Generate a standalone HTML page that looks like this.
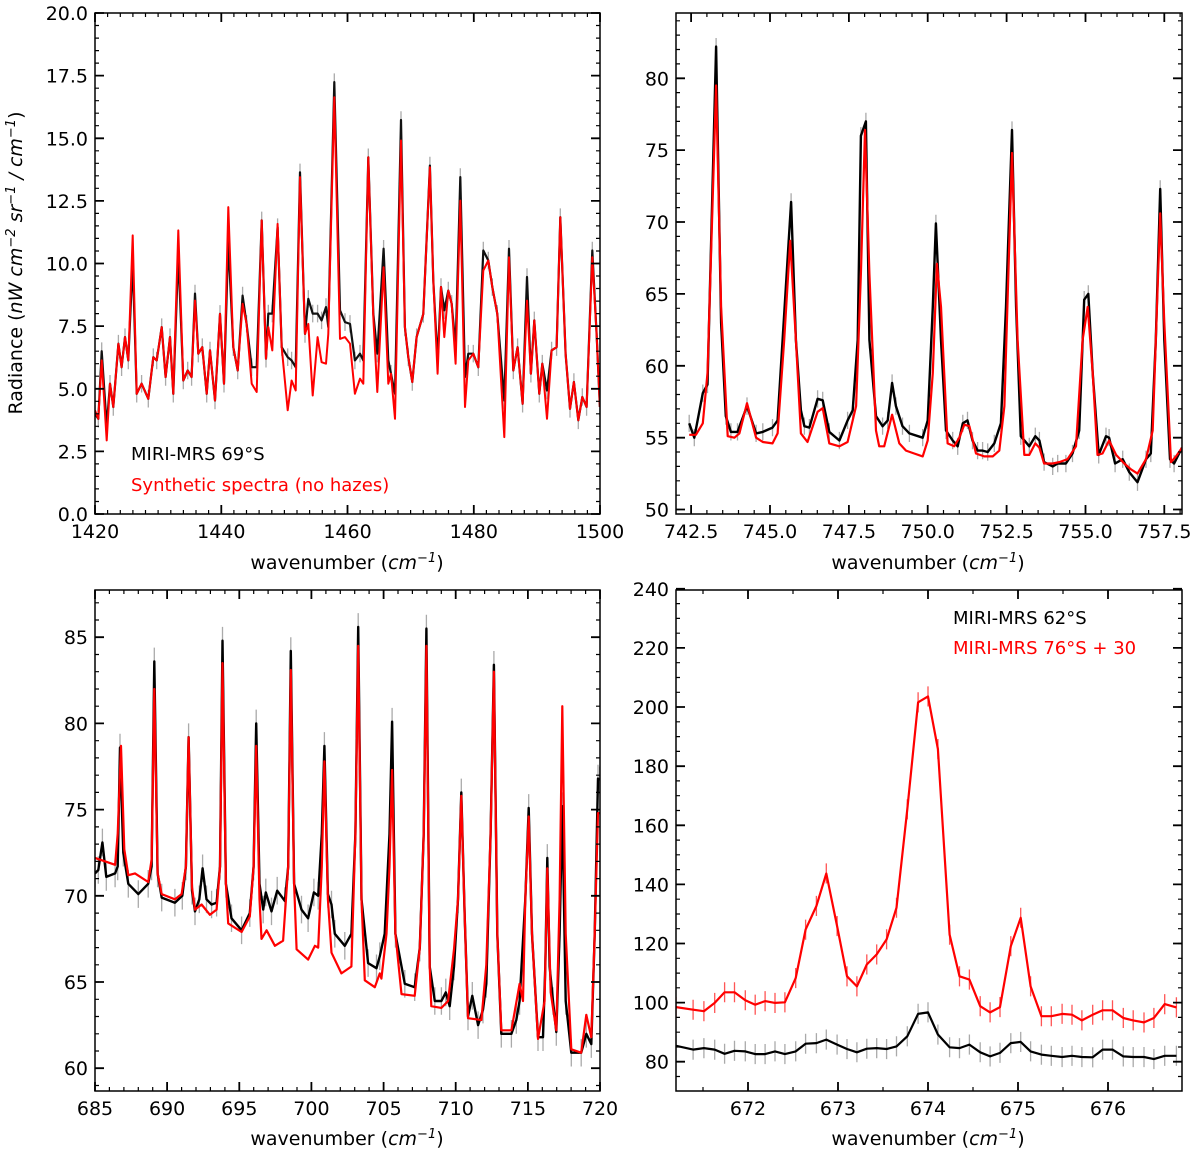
<!DOCTYPE html>
<html><head><meta charset="utf-8">
<style>
html,body{margin:0;padding:0;background:#fff;}
svg{display:block;font-family:"DejaVu Sans","Liberation Sans",sans-serif;}
</style></head>
<body>
<svg id="fig" width="1200" height="1154" viewBox="0 0 1200 1154" xmlns="http://www.w3.org/2000/svg">
<rect width="1200" height="1154" fill="#fff"/>
<g id="layer"></g>
<text transform="translate(22,263) rotate(-90)" text-anchor="middle" font-size="19">Radiance (<tspan font-style="italic">nW cm</tspan><tspan font-style="italic" font-size="13" dy="-7">−2</tspan><tspan font-style="italic" dy="7"> sr</tspan><tspan font-style="italic" font-size="13" dy="-7">−1</tspan><tspan font-style="italic" dy="7"> / cm</tspan><tspan font-style="italic" font-size="13" dy="-7">−1</tspan><tspan dy="7">)</tspan></text>
<text x="347" y="569" text-anchor="middle" font-size="19">wavenumber (<tspan font-style="italic">cm</tspan><tspan font-style="italic" font-size="13" dy="-7">−1</tspan><tspan dy="7">)</tspan></text>
<text x="928" y="569" text-anchor="middle" font-size="19">wavenumber (<tspan font-style="italic">cm</tspan><tspan font-style="italic" font-size="13" dy="-7">−1</tspan><tspan dy="7">)</tspan></text>
<text x="347" y="1145" text-anchor="middle" font-size="19">wavenumber (<tspan font-style="italic">cm</tspan><tspan font-style="italic" font-size="13" dy="-7">−1</tspan><tspan dy="7">)</tspan></text>
<text x="928" y="1145" text-anchor="middle" font-size="19">wavenumber (<tspan font-style="italic">cm</tspan><tspan font-style="italic" font-size="13" dy="-7">−1</tspan><tspan dy="7">)</tspan></text>
<text x="131" y="460" font-size="18" fill="#000">MIRI-MRS 69°S</text>
<text x="131" y="491" font-size="18" fill="#f00">Synthetic spectra (no hazes)</text>
<text x="953" y="624" font-size="18" fill="#000">MIRI-MRS 62°S</text>
<text x="953" y="654" font-size="18" fill="#f00">MIRI-MRS 76°S + 30</text>
</svg>
<script>
// ---- Panel 1 data (1420-1500 cm-1) ----
const p1Wn=[1420.00,1420.53,1421.06,1421.85,1422.38,1422.90,1423.70,1424.22,1424.75,1425.28,1425.97,1426.60,1427.39,1428.45,1429.24,1429.77,1430.56,1431.19,1431.88,1432.41,1433.20,1433.99,1434.68,1435.31,1435.84,1436.37,1437.00,1437.69,1438.22,1439.01,1439.80,1440.43,1441.12,1441.91,1442.60,1443.39,1444.02,1444.82,1445.61,1446.40,1447.09,1447.46,1448.09,1448.93,1449.57,1450.52,1451.15,1451.79,1452.47,1453.26,1453.79,1454.48,1455.27,1455.90,1456.59,1456.96,1457.91,1458.81,1459.60,1460.39,1461.18,1461.98,1462.50,1463.30,1464.09,1464.72,1465.72,1466.46,1466.89,1467.52,1468.47,1469.10,1469.63,1470.27,1470.95,1472.01,1473.06,1473.59,1474.28,1474.81,1475.33,1475.97,1476.50,1477.13,1477.87,1478.61,1479.14,1479.93,1480.72,1481.51,1482.30,1482.94,1483.73,1484.84,1485.58,1486.26,1486.95,1487.74,1488.43,1489.06,1489.59,1490.38,1490.86,1491.60,1492.34,1493.13,1493.71,1494.55,1495.24,1495.87,1496.56,1497.19,1497.88,1498.78,1499.46,1499.99];
const p1Syn=[4.14,3.80,6.13,2.94,5.20,4.27,6.80,5.86,7.06,6.13,11.12,4.80,5.20,4.60,6.26,6.13,7.46,5.47,7.06,4.80,11.32,5.33,5.73,5.47,8.52,6.40,6.66,4.80,6.53,4.53,7.99,5.20,12.25,6.66,5.73,8.39,7.59,5.20,4.87,11.72,6.20,7.46,6.53,11.58,6.66,4.14,5.33,4.93,13.45,7.19,7.59,4.73,7.06,6.06,6.00,7.19,16.64,6.99,7.06,6.80,4.80,5.40,5.20,14.24,7.86,4.87,9.85,5.20,5.60,3.80,14.91,7.46,6.26,5.27,7.06,7.99,13.84,9.32,5.60,9.06,7.06,8.92,8.39,6.00,12.51,4.27,6.13,6.40,5.86,9.72,10.12,9.06,7.99,3.07,10.25,5.73,6.66,4.40,8.52,5.60,7.73,4.80,6.00,3.80,6.53,6.66,11.85,6.40,4.20,5.27,3.74,4.67,4.27,10.25,7.19,4.27];
const p1Obs=[4.00,3.80,6.50,3.50,5.20,4.27,6.80,5.86,7.06,6.13,10.10,4.80,5.20,4.60,6.26,6.13,7.46,5.47,7.06,4.80,10.40,5.33,5.73,5.47,8.80,6.40,6.66,4.80,6.53,4.53,7.99,5.20,10.90,6.66,5.73,8.72,7.59,5.86,5.86,11.72,6.20,8.00,8.00,11.45,6.66,6.26,6.13,5.86,13.64,7.19,8.59,8.00,8.00,7.73,8.26,7.46,17.24,8.13,7.66,7.59,6.13,6.40,6.13,14.24,8.00,6.40,10.59,6.13,5.60,4.80,15.73,7.46,6.26,5.27,7.06,7.99,13.91,9.32,6.13,9.06,8.13,8.92,8.39,6.66,13.45,5.47,6.40,6.40,5.86,10.52,10.12,9.06,7.99,4.53,10.59,5.73,6.66,4.40,9.46,5.60,7.73,4.80,6.00,4.93,6.53,6.66,11.85,6.40,4.20,5.27,3.74,4.67,4.27,10.52,7.19,4.27];
const p1XTicks=[1420,1440,1460,1480,1500];
const p1YTicks=[0,2.5,5,7.5,10,12.5,15,17.5,20];

// ---- Panel 2 data (742-758 cm-1) ----
const p2ObsWn=[742.44,742.60,742.87,743.02,743.29,743.45,743.60,743.76,743.97,744.27,744.56,744.77,745.08,745.24,745.40,745.67,745.82,745.98,746.09,746.25,746.51,746.67,746.88,747.20,747.46,747.62,747.78,747.88,748.04,748.15,748.36,748.57,748.73,748.87,748.99,749.20,749.42,749.84,750.00,750.16,750.26,750.42,750.58,750.79,750.95,751.11,751.26,751.42,751.58,751.74,751.90,752.11,752.32,752.48,752.67,752.80,752.95,753.22,753.41,753.54,753.69,753.96,754.12,754.38,754.59,754.80,754.96,755.09,755.23,755.42,755.65,755.75,755.94,756.18,756.39,756.65,756.92,757.07,757.23,757.37,757.50,757.68,757.81,758.06];
const p2Obs=[56.0,55.0,58.1,58.7,82.2,63.0,56.5,55.4,55.4,57.2,55.3,55.4,55.7,56.2,61.8,71.4,61.8,56.9,55.8,55.7,57.7,57.6,55.4,54.8,56.2,56.9,61.8,76.0,77.0,61.8,56.5,55.8,56.2,58.8,57.2,55.8,55.3,55.0,56.2,64.1,69.9,61.8,55.5,54.8,54.4,56.0,56.2,54.8,54.1,54.1,54.0,54.6,56.0,64.1,76.4,64.1,55.1,54.4,55.1,54.8,53.3,53.0,53.2,53.2,53.9,55.5,64.6,65.0,59.5,53.8,55.1,55.0,53.2,53.5,52.6,51.9,53.5,53.9,61.8,72.3,61.8,53.5,53.2,54.3];
const p2SynWn=[742.44,742.65,742.87,743.02,743.29,743.45,743.66,743.87,744.03,744.27,744.56,744.77,745.08,745.24,745.45,745.64,745.82,745.98,746.19,746.51,746.67,746.88,747.20,747.46,747.73,747.88,748.01,748.15,748.36,748.46,748.62,748.87,749.10,749.31,749.57,749.84,750.00,750.16,750.29,750.42,750.63,750.84,751.00,751.16,751.32,751.53,751.79,752.06,752.27,752.43,752.67,752.85,753.06,753.22,753.41,753.54,753.69,753.96,754.17,754.43,754.70,754.91,755.07,755.23,755.38,755.54,755.75,755.97,756.23,756.44,756.65,756.92,757.13,757.37,757.50,757.71,757.87,758.06];
const p2Syn=[55.2,55.2,56.0,59.5,79.5,64.1,55.1,55.0,55.3,57.4,55.0,54.7,54.6,55.3,61.8,68.7,61.8,55.3,54.7,56.8,57.05,54.6,54.4,54.7,57.2,66.4,76.4,66.4,55.5,54.4,54.4,56.6,54.6,54.1,53.9,53.7,54.8,59.5,67.1,64.1,54.6,54.4,55.0,55.9,55.8,53.9,53.7,53.7,54.1,57.2,74.8,61.8,53.8,53.8,54.6,54.3,53.2,53.2,53.3,53.5,54.4,61.8,64.1,59.5,53.8,53.9,54.8,53.8,53.2,52.8,52.5,53.5,55.5,70.6,63.0,53.3,53.7,54.3];
const p2XTicks=[742.5,745,747.5,750,752.5,755,757.5];
const p2YTicks=[50,55,60,65,70,75,80];

// ---- Panel 3 data (685-720 cm-1) ----
const p3ObsWn=[685.00,685.23,685.51,685.78,686.39,686.57,686.73,686.96,687.31,688.00,688.69,688.92,689.11,689.34,689.62,690.54,691.05,691.30,691.49,691.72,691.93,692.23,692.46,692.73,693.08,693.43,693.66,693.84,694.07,694.46,695.16,695.73,695.99,696.17,696.40,696.66,696.84,697.23,697.63,698.16,698.39,698.57,698.80,699.31,699.77,700.17,700.47,700.72,700.90,701.14,701.39,701.62,702.31,702.77,703.05,703.24,703.47,703.93,704.51,704.74,705.08,705.41,705.59,705.82,706.47,707.16,707.51,707.78,707.97,708.20,708.55,709.01,709.31,709.58,709.88,710.16,710.39,710.62,710.85,711.15,711.55,711.89,712.12,712.42,712.65,712.88,713.16,713.86,714.20,714.43,714.82,715.06,715.29,715.70,716.05,716.21,716.35,716.51,716.74,716.97,717.20,717.39,717.62,718.01,718.70,719.05,719.40,719.63,719.86,719.97];
const p3Obs=[71.3,71.5,73.1,71.1,71.3,71.7,78.6,72.5,70.7,70.1,70.7,71.7,83.6,71.3,69.9,69.6,70.0,71.7,79.2,70.3,69.1,69.8,71.6,69.8,69.5,69.6,71.7,84.8,70.7,68.7,68.0,69.0,71.7,80.0,70.7,69.2,70.2,69.1,70.3,69.7,71.7,84.2,70.7,69.2,68.7,70.2,70.0,73.6,78.7,70.1,69.5,67.8,67.1,67.8,73.6,85.6,69.8,66.1,65.8,66.5,67.8,73.6,80.1,67.8,64.9,64.7,67.0,73.6,85.5,65.9,63.9,63.9,64.4,63.6,65.9,69.8,76.0,68.8,63.0,64.2,62.5,63.4,64.9,73.6,83.4,67.8,62.0,62.0,62.8,63.9,69.8,75.1,67.8,61.8,61.8,65.9,72.2,65.9,63.9,62.1,67.8,75.2,63.9,60.9,60.9,62.0,61.4,67.8,76.8,76.7];
const p3SynWn=[685.00,686.39,686.57,686.80,687.03,687.31,687.77,688.69,688.92,689.11,689.34,689.62,690.54,691.00,691.30,691.49,691.72,691.93,692.39,692.96,693.43,693.66,693.84,694.07,694.23,695.16,695.73,695.99,696.17,696.40,696.54,696.89,697.47,698.04,698.39,698.57,698.80,698.97,699.77,700.24,700.47,700.72,700.90,701.14,701.39,702.08,702.77,703.05,703.24,703.47,703.70,704.39,704.74,704.85,705.20,705.41,705.59,705.82,706.24,707.16,707.51,707.78,707.97,708.20,708.31,709.01,709.47,709.88,710.16,710.39,710.62,710.85,711.78,712.12,712.42,712.65,712.88,713.16,713.86,714.43,714.66,714.82,715.06,715.29,715.70,716.16,716.35,716.58,716.97,717.20,717.39,717.62,718.01,718.70,719.05,719.40,719.63,719.86,719.97];
const p3Syn=[72.2,71.8,73.6,78.7,72.7,71.2,71.3,70.8,72.1,82.0,71.3,70.1,69.8,70.1,71.7,79.2,70.5,69.2,69.5,68.9,69.2,71.7,83.5,70.7,68.4,67.9,68.8,71.7,78.7,69.8,67.5,68.0,67.1,67.4,71.7,83.1,70.7,66.9,66.3,67.1,67.0,71.7,77.8,69.8,66.7,65.5,65.9,73.6,84.5,69.8,65.1,64.7,65.5,65.2,67.8,71.7,77.3,67.8,64.3,64.2,67.0,73.6,84.5,65.9,63.6,63.5,63.9,66.9,69.8,75.8,68.8,62.9,62.8,66.0,73.6,83.0,67.8,62.2,62.2,64.9,63.9,69.8,74.6,67.8,61.7,63.9,71.6,64.4,62.2,69.8,81.0,67.8,61.1,60.9,63.1,61.8,67.8,74.8,74.8];
const p3XTicks=[685,690,695,700,705,710,715,720];
const p3YTicks=[60,65,70,75,80,85];

// ---- Panel 4 data (671-677 cm-1) ----
const p4Wn=[671.20,671.39,671.51,671.63,671.74,671.85,671.97,672.08,672.19,672.30,672.41,672.53,672.64,672.76,672.87,672.99,673.10,673.21,673.32,673.43,673.54,673.65,673.77,673.89,674.00,674.11,674.24,674.35,674.46,674.58,674.69,674.80,674.92,675.03,675.14,675.26,675.37,675.49,675.60,675.71,675.83,675.94,676.05,676.17,676.28,676.40,676.51,676.63,676.76];
const p4South62=[85.4,84.1,84.6,84.1,82.7,83.7,83.5,82.6,82.6,83.5,82.6,83.5,86.1,86.3,87.5,85.8,84.3,83.2,84.4,84.6,84.3,85.2,88.6,96.2,96.7,89.2,84.9,84.6,85.8,83.2,81.8,83.0,86.3,86.7,83.5,82.4,82.0,81.6,82.0,81.6,81.5,84.1,84.1,81.8,81.6,81.6,80.9,82.0,82.0];
const p4South76=[98.5,97.6,97.1,99.9,103.5,103.5,100.8,99.3,100.5,99.9,100.1,108.3,124.7,132.7,143.7,125.9,108.9,105.5,112.9,116.3,121.4,132.1,165.4,201.6,203.6,185.8,123.0,108.9,107.8,98.8,96.7,98.5,119.1,128.7,105.5,95.4,95.4,96.2,95.9,94.0,95.9,97.4,97.4,94.8,94.0,93.3,94.8,99.5,98.4];
const p4XTicks=[672,673,674,675,676];
const p4YTicks=[80,100,120,140,160,180,200,220,240];

const NS='http://www.w3.org/2000/svg';
const layer=document.getElementById('layer');
function mk(tag,attrs,parent){const e=document.createElementNS(NS,tag);for(const k in attrs)e.setAttribute(k,attrs[k]);(parent||layer).appendChild(e);return e;}

function panel(cfg){
  const g=mk('g',{});
  
  
  const sx=v=>cfg.x0+(v-cfg.xmin)/(cfg.xmax-cfg.xmin)*(cfg.x1-cfg.x0);
  const sy=v=>cfg.y1-(v-cfg.ymin)/(cfg.ymax-cfg.ymin)*(cfg.y1-cfg.y0);
  const clipId='clip-'+cfg.name;
  const cp=mk('clipPath',{id:clipId},g);
  mk('rect',{x:cfg.x0,y:cfg.y0,width:cfg.x1-cfg.x0,height:cfg.y1-cfg.y0},cp);
  const plot=mk('g',{'clip-path':'url(#'+clipId+')'},g);
  cfg.series.forEach(s=>{
    const sg=mk('g',{},plot);
    
    
    if(s.err){
      let d='';
      for(let i=0;i<s.x.length;i++){d+='M'+sx(s.x[i]).toFixed(1)+' '+sy(s.y[i]-s.err).toFixed(1)+'V'+sy(s.y[i]+s.err).toFixed(1);}
      const eb=mk('path',{d:d,stroke:s.errColor,'stroke-width':1.3,fill:'none'},sg);
      
      
    }
    let d='';
    for(let i=0;i<s.x.length;i++){d+=(i?'L':'M')+sx(s.x[i]).toFixed(1)+' '+sy(s.y[i]).toFixed(1);}
    const ln=mk('path',{d:d,stroke:s.color,'stroke-width':s.w||2,fill:'none','stroke-linejoin':'round'},sg);
    
    
  });
  const frame=mk('rect',{x:cfg.x0,y:cfg.y0,width:cfg.x1-cfg.x0,height:cfg.y1-cfg.y0,fill:'none',stroke:'#000','stroke-width':1.5},g);
  
  
  let td='';
  for(let v=Math.ceil(cfg.xmin/cfg.xminor-1e-9)*cfg.xminor;v<=cfg.xmax+1e-9;v+=cfg.xminor){
    const x=sx(v).toFixed(1);
    td+='M'+x+' '+cfg.y1+'v-4M'+x+' '+cfg.y0+'v4';}
  for(let v=Math.ceil(cfg.ymin/cfg.yminor-1e-9)*cfg.yminor;v<=cfg.ymax+1e-9;v+=cfg.yminor){
    const y=sy(v).toFixed(1);td+='M'+cfg.x0+' '+y+'h4M'+cfg.x1+' '+y+'h-4';}
  mk('path',{d:td,stroke:'#000','stroke-width':1.2,fill:'none'},g);
  let md='';
  const xax=mk('g',{},g);
  
  
  cfg.xt.forEach(v=>{
    const x=sx(v);md+='M'+x.toFixed(1)+' '+cfg.y1+'v-9M'+x.toFixed(1)+' '+cfg.y0+'v9';
    const t=mk('text',{x:x.toFixed(1),y:cfg.y1+24,'text-anchor':'middle','font-size':19},xax);
    
    
    t.textContent=cfg.xf(v);
  });
  const yax=mk('g',{},g);
  
  
  cfg.yt.forEach(v=>{
    const y=sy(v);md+='M'+cfg.x0+' '+y.toFixed(1)+'h9M'+cfg.x1+' '+y.toFixed(1)+'h-9';
    const t=mk('text',{x:cfg.x0-7,y:(y+7).toFixed(1),'text-anchor':'end','font-size':19},yax);
    
    
    t.textContent=cfg.yf(v);
  });
  mk('path',{d:md,stroke:'#000','stroke-width':1.8,fill:'none'},g);
}

panel({name:'panel-1420-1500',x0:95,x1:600,y0:13,y1:514,xmin:1420,xmax:1500,ymin:0,ymax:20,xminor:2,yminor:0.5,
  xt:p1XTicks,yt:p1YTicks,xf:v=>String(v),yf:v=>v.toFixed(1),
  series:[{name:'observed-69s',x:p1Wn,y:p1Obs,color:'#111',err:0.35,errColor:'#aaa',w:2.2},
          {name:'synthetic-no-hazes',x:p1Wn,y:p1Syn,color:'#f00',w:2}]});
panel({name:'panel-742-758',x0:676,x1:1182,y0:13,y1:514,xmin:742.02,xmax:758.06,ymin:49.69,ymax:84.54,xminor:0.5,yminor:1,
  xt:p2XTicks,yt:p2YTicks,xf:v=>v.toFixed(1),yf:v=>String(v),
  series:[{name:'observed-69s-742',x:p2ObsWn,y:p2Obs,color:'#000',err:0.6,errColor:'#aaa',w:2.4},
          {name:'synthetic-742',x:p2SynWn,y:p2Syn,color:'#f00',w:2.2}]});
panel({name:'panel-685-720',x0:95,x1:600,y0:590,y1:1091,xmin:685,xmax:720,ymin:58.68,ymax:87.74,xminor:1,yminor:1,
  xt:p3XTicks,yt:p3YTicks,xf:v=>String(v),yf:v=>String(v),
  series:[{name:'observed-69s-685',x:p3ObsWn,y:p3Obs,color:'#000',err:0.8,errColor:'#aaa',w:2.4},
          {name:'synthetic-685',x:p3SynWn,y:p3Syn,color:'#f00',w:2.2}]});
panel({name:'panel-671-677',x0:676,x1:1182,y0:590,y1:1091,xmin:671.2,xmax:676.822,ymin:70.1,ymax:239.6,xminor:0.5,yminor:5,
  xt:p4XTicks,yt:p4YTicks,xf:v=>String(v),yf:v=>String(v),
  series:[{name:'miri-mrs-62s',x:p4Wn,y:p4South62,color:'#000',err:3.4,errColor:'#aaa',w:2.2},
          {name:'miri-mrs-76s-plus-30',x:p4Wn,y:p4South76,color:'#f00',err:3.4,errColor:'#f55',w:2.2}]});
</script>
</body></html>
